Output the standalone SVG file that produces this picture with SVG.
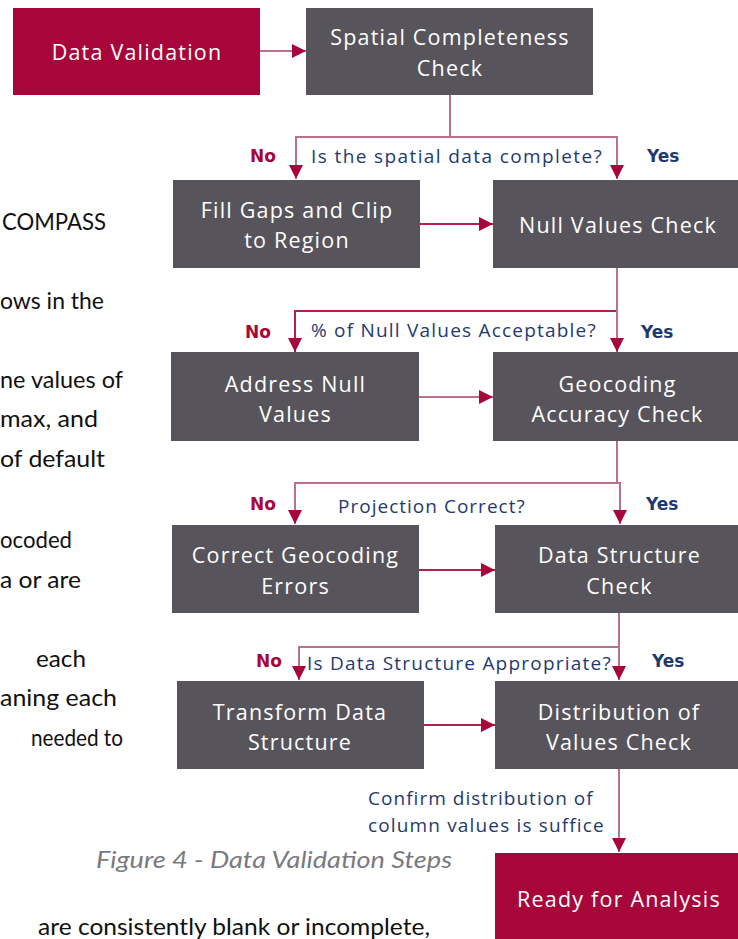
<svg xmlns="http://www.w3.org/2000/svg" width="738" height="939" viewBox="0 0 738 939">
  <style>
    .start { fill: #a8063a; }
    .step { fill: #57545b; }
    .box-text { font-family: "Open Sans", "Noto Sans", sans-serif; font-size: 21.5px; letter-spacing: 1.2px; fill: #ffffff; text-anchor: middle; }
    .q { font-family: "Open Sans", "Noto Sans", sans-serif; font-size: 19px; letter-spacing: 1.3px; fill: #1f3a6f; }
    .no { font-family: "DejaVu Sans", sans-serif; font-weight: bold; font-size: 17px; fill: #a8063a; }
    .yes { font-family: "DejaVu Sans", sans-serif; font-weight: bold; font-size: 17px; fill: #1f3a6f; }
    .body { font-family: Lato, "Liberation Sans", sans-serif; font-size: 24px; fill: #111111; }
    .caption { font-family: Lato, "Liberation Sans", sans-serif; font-style: italic; font-size: 24px; fill: #7a7a7e; }
    .mauve { fill: none; stroke: #b8738a; stroke-width: 2; }
    .red { fill: none; stroke: #b3204c; stroke-width: 2; }
  </style>
  <defs>
    <marker id="arrow" markerUnits="userSpaceOnUse" markerWidth="14" markerHeight="14" viewBox="0 0 14 14" refX="14" refY="7" orient="auto">
      <path d="M0,0 L14,7 L0,14 Z" fill="#a8063a"/>
    </marker>
  </defs>

  <!-- surrounding page text -->
  <g id="page-text">
    <text class="body" x="2" y="230" textLength="104" lengthAdjust="spacingAndGlyphs">COMPASS</text>
    <text class="body" x="0" y="309" textLength="104" lengthAdjust="spacingAndGlyphs">ows in the</text>
    <text class="body" x="0" y="388" textLength="123" lengthAdjust="spacingAndGlyphs">ne values of</text>
    <text class="body" x="0" y="427" textLength="98" lengthAdjust="spacingAndGlyphs">max, and</text>
    <text class="body" x="0" y="467" textLength="105" lengthAdjust="spacingAndGlyphs">of default</text>
    <text class="body" x="0" y="548" textLength="72" lengthAdjust="spacingAndGlyphs">ocoded</text>
    <text class="body" x="0" y="588" textLength="81" lengthAdjust="spacingAndGlyphs">a or are</text>
    <text class="body" x="36" y="667" textLength="50" lengthAdjust="spacingAndGlyphs">each</text>
    <text class="body" x="0" y="706" textLength="117" lengthAdjust="spacingAndGlyphs">aning each</text>
    <text class="body" x="31" y="746" textLength="92" lengthAdjust="spacingAndGlyphs">needed to</text>
    <text class="body" x="38" y="935" textLength="392" lengthAdjust="spacingAndGlyphs">are consistently blank or  incomplete,</text>
    <text class="caption" x="96" y="868" textLength="356" lengthAdjust="spacingAndGlyphs">Figure 4 - Data Validation Steps</text>
  </g>

  <!-- connectors -->
  <g id="connectors">
    <line class="mauve" x1="260" y1="51" x2="306" y2="51" marker-end="url(#arrow)"/>

    <polyline class="mauve" points="450,95 450,137"/>
    <line class="mauve" x1="296" y1="137" x2="617" y2="137"/>
    <line class="mauve" x1="296" y1="136" x2="296" y2="179" marker-end="url(#arrow)"/>
    <line class="mauve" x1="617" y1="136" x2="617" y2="179" marker-end="url(#arrow)"/>

    <line class="red" x1="420" y1="224" x2="493" y2="224" marker-end="url(#arrow)"/>

    <polyline class="mauve" points="617,268 617,311"/>
    <line class="red" x1="295" y1="311" x2="617" y2="311"/>
    <line class="red" x1="295" y1="310" x2="295" y2="352" marker-end="url(#arrow)"/>
    <line class="mauve" x1="617" y1="310" x2="617" y2="352" marker-end="url(#arrow)"/>

    <line class="mauve" x1="419" y1="397" x2="493" y2="397" marker-end="url(#arrow)"/>

    <polyline class="mauve" points="617,441 617,483"/>
    <line class="mauve" x1="295" y1="483" x2="620" y2="483"/>
    <line class="mauve" x1="295" y1="482" x2="295" y2="524" marker-end="url(#arrow)"/>
    <line class="mauve" x1="620" y1="482" x2="620" y2="524" marker-end="url(#arrow)"/>

    <line class="red" x1="419" y1="570" x2="495" y2="570" marker-end="url(#arrow)"/>

    <polyline class="mauve" points="619,613 619,647"/>
    <line class="mauve" x1="299" y1="647" x2="619" y2="647"/>
    <line class="mauve" x1="299" y1="646" x2="299" y2="680" marker-end="url(#arrow)"/>
    <line class="mauve" x1="619" y1="646" x2="619" y2="680" marker-end="url(#arrow)"/>

    <line class="red" x1="424" y1="725" x2="495" y2="725" marker-end="url(#arrow)"/>

    <line class="mauve" x1="619" y1="769" x2="619" y2="852" marker-end="url(#arrow)"/>
  </g>

  <!-- branch labels -->
  <g id="labels">
    <text class="no" x="250" y="162">No</text>
    <text class="q" x="311" y="163" textLength="292">Is the spatial data complete?</text>
    <text class="yes" x="647" y="162">Yes</text>

    <text class="no" x="245" y="338">No</text>
    <text class="q" x="311" y="337" textLength="286">% of Null Values Acceptable?</text>
    <text class="yes" x="641" y="338">Yes</text>

    <text class="no" x="250" y="510">No</text>
    <text class="q" x="338" y="513" textLength="188">Projection Correct?</text>
    <text class="yes" x="646" y="510">Yes</text>

    <text class="no" x="256" y="667">No</text>
    <text class="q" x="307" y="670" textLength="305">Is Data Structure Appropriate?</text>
    <text class="yes" x="652" y="667">Yes</text>

    <text class="q" x="368" y="805" textLength="226">Confirm distribution of</text>
    <text class="q" x="368" y="832" textLength="237">column values is suffice</text>
  </g>

  <!-- process nodes -->
  <g id="data-validation">
    <rect class="start" x="13" y="8" width="247" height="87"/>
    <text class="box-text" x="137" y="59.5">Data Validation</text>
  </g>
  <g id="spatial-completeness">
    <rect class="step" x="306" y="8" width="287" height="87"/>
    <text class="box-text" x="450" y="45">Spatial Completeness</text>
    <text class="box-text" x="450" y="75.5">Check</text>
  </g>
  <g id="fill-gaps">
    <rect class="step" x="173" y="180" width="247" height="88"/>
    <text class="box-text" x="297" y="217.5">Fill Gaps and Clip</text>
    <text class="box-text" x="297" y="248">to Region</text>
  </g>
  <g id="null-values">
    <rect class="step" x="493" y="180" width="250" height="88"/>
    <text class="box-text" x="618" y="233">Null Values Check</text>
  </g>
  <g id="address-null">
    <rect class="step" x="171" y="352" width="248" height="89"/>
    <text class="box-text" x="295.5" y="392">Address Null</text>
    <text class="box-text" x="295.5" y="422">Values</text>
  </g>
  <g id="geocoding-accuracy">
    <rect class="step" x="493" y="352" width="250" height="89"/>
    <text class="box-text" x="617.5" y="392">Geocoding</text>
    <text class="box-text" x="617.5" y="422">Accuracy Check</text>
  </g>
  <g id="correct-geocoding">
    <rect class="step" x="172" y="525" width="247" height="88"/>
    <text class="box-text" x="295.5" y="563">Correct Geocoding</text>
    <text class="box-text" x="295.5" y="594">Errors</text>
  </g>
  <g id="data-structure">
    <rect class="step" x="495" y="525" width="248" height="88"/>
    <text class="box-text" x="619.5" y="563">Data Structure</text>
    <text class="box-text" x="619.5" y="594">Check</text>
  </g>
  <g id="transform-structure">
    <rect class="step" x="177" y="681" width="247" height="88"/>
    <text class="box-text" x="300" y="720">Transform Data</text>
    <text class="box-text" x="300" y="750">Structure</text>
  </g>
  <g id="distribution-values">
    <rect class="step" x="495" y="681" width="248" height="88"/>
    <text class="box-text" x="619" y="720">Distribution of</text>
    <text class="box-text" x="619" y="750">Values Check</text>
  </g>
  <g id="ready-analysis">
    <rect class="start" x="495" y="853" width="248" height="90"/>
    <text class="box-text" x="619" y="907">Ready for Analysis</text>
  </g>
</svg>
